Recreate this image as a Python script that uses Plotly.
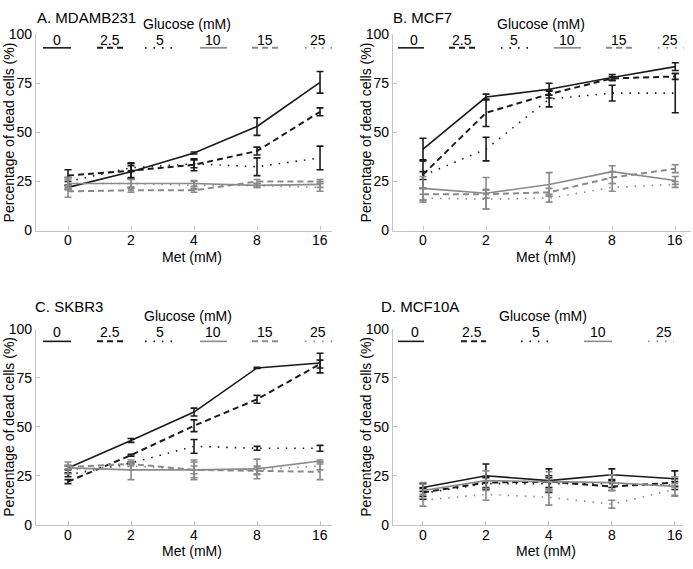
import plotly.graph_objects as go

# ---------------- data ----------------
met_labels = ["0", "2", "4", "8", "16"]
glucose_levels = ["0", "2.5", "5", "10", "15", "25"]
panel_titles = ["A. MDAMB231", "B. MCF7", "C. SKBR3", "D. MCF10A"]

# Panel A  MDAMB231
A_g0 = [22, 30, 39.5, 53, 75.5]
A_g0_err = [1, 3, 0.5, 4.5, 5.5]
A_g2_5 = [28, 30.5, 33.5, 40.5, 60.5]
A_g2_5_err = [3, 4, 3, 2, 2]
A_g5 = [25, 32, 34, 32.5, 37]
A_g5_err = [2, 2, 2, 4.5, 6]
A_g10 = [24, 24, 24, 23, 23.5]
A_g10_err = [2, 2, 1.5, 1, 1.5]
A_g15 = [20, 20.5, 20.5, 25, 25]
A_g15_err = [3, 1, 1, 1, 1]
A_g25 = [24, 24, 23, 23, 22]
A_g25_err = [3, 2, 2, 1, 2]

# Panel B  MCF7
B_g0 = [41.5, 68, 72, 78, 83.5]
B_g0_err = [5.5, 1.5, 3, 1.5, 2]
B_g2_5 = [28.5, 60, 69.5, 77.5, 78.5]
B_g2_5_err = [7, 7, 2, 1, 1.5]
B_g5 = [28, 41.5, 67, 70, 70]
B_g5_err = [2, 6, 4, 4, 10]
B_g10 = [21.5, 19, 23.5, 30, 25.5]
B_g10_err = [6, 8, 6, 3, 2]
B_g15 = [18.5, 18.5, 19.5, 27, 31.5]
B_g15_err = [3, 2, 2, 3, 2]
B_g25 = [16.5, 16, 16.5, 22, 23.5]
B_g25_err = [2, 5, 2, 2, 1.5]

# Panel C  SKBR3
C_g0 = [29, 43, 57.5, 80, 82.5]
C_g0_err = [1, 1, 2, 0.3, 5]
C_g2_5 = [22, 35.5, 50.5, 64, 82]
C_g2_5_err = [1, 0.5, 3, 2, 2]
C_g5 = [25.5, 31.5, 40, 39, 39]
C_g5_err = [1, 0.5, 3.5, 1, 1.5]
C_g10 = [29, 28, 28, 28.5, 32.5]
C_g10_err = [3, 5, 5, 5, 0.5]
C_g15 = [29.5, 31, 28, 27.5, 27]
C_g15_err = [1, 1, 4, 2, 4]
C_g25 = [28, 30, 28, 28, 30]
C_g25_err = [2, 2, 2, 2, 2]

# Panel D  MCF10A (no 15 mM series)
D_g0 = [19, 25, 22.5, 25.5, 23.5]
D_g0_err = [2, 6, 6, 3, 4]
D_g2_5 = [16.5, 21.5, 22, 19.5, 21.5]
D_g2_5_err = [2, 3, 3, 2, 2]
D_g5 = [16, 21, 21, 21, 20]
D_g5_err = [3, 3, 3, 2, 2]
D_g10 = [17.5, 22.5, 22, 21.5, 19.5]
D_g10_err = [4, 5, 5, 4, 5]
D_g25 = [12.5, 15.5, 14, 10.5, 18]
D_g25_err = [3, 3, 4, 2, 3]

# ---------------- styles ----------------
BLACK = "#1a1a1a"
GRAY = "#8a8a8a"
AXIS = "#c4c4c4"
FONT = "Liberation Sans, Arial, sans-serif"
W, H = 693, 569

styles = {
    "0": dict(color=BLACK, dash="solid", width=1.6),
    "2.5": dict(color=BLACK, dash="6px,4px", width=2),
    "5": dict(color=BLACK, dash="1.5px,7px", width=1.6),
    "10": dict(color=GRAY, dash="solid", width=1.6),
    "15": dict(color=GRAY, dash="6px,4px", width=2),
    "25": dict(color=GRAY, dash="1.5px,7px", width=1.6),
}

panels = [
    dict(series={"0": (A_g0, A_g0_err), "2.5": (A_g2_5, A_g2_5_err), "5": (A_g5, A_g5_err),
                 "10": (A_g10, A_g10_err), "15": (A_g15, A_g15_err), "25": (A_g25, A_g25_err)},
         px=(36, 332), py=(27, 229), xr=(-0.508, 4.19),
         title_xy=(35, 10), gluc_xy=(187, 16), met_xy=(192, 256), tick_y=239,
         leg=[(57, 43, 71), (110, 97, 123), (160, 145, 175), (213, 200, 227), (265, 252, 278), (318, 305, 332)],
         leg_keys=["0", "2.5", "5", "10", "15", "25"], leg_y=(33, 41)),
    dict(series={"0": (B_g0, B_g0_err), "2.5": (B_g2_5, B_g2_5_err), "5": (B_g5, B_g5_err),
                 "10": (B_g10, B_g10_err), "15": (B_g15, B_g15_err), "25": (B_g25, B_g25_err)},
         px=(393, 691), py=(27, 229), xr=(-0.476, 4.25),
         title_xy=(391, 10), gluc_xy=(541, 16), met_xy=(546, 256), tick_y=239,
         leg=[(414, 398, 424), (462, 449, 476), (514, 501, 528), (567, 554, 581), (619, 606, 633), (670, 658, 684)],
         leg_keys=["0", "2.5", "5", "10", "15", "25"], leg_y=(33, 41)),
    dict(series={"0": (C_g0, C_g0_err), "2.5": (C_g2_5, C_g2_5_err), "5": (C_g5, C_g5_err),
                 "10": (C_g10, C_g10_err), "15": (C_g15, C_g15_err), "25": (C_g25, C_g25_err)},
         px=(36, 332), py=(330, 531.7), xr=(-0.508, 4.19),
         title_xy=(33, 307), gluc_xy=(188, 317), met_xy=(192, 559), tick_y=542,
         leg=[(57, 43, 71), (110, 97, 123), (160, 145, 175), (213, 200, 227), (265, 252, 278), (318, 305, 332)],
         leg_keys=["0", "2.5", "5", "10", "15", "25"], leg_y=(333, 343)),
    dict(series={"0": (D_g0, D_g0_err), "2.5": (D_g2_5, D_g2_5_err), "5": (D_g5, D_g5_err),
                 "10": (D_g10, D_g10_err), "25": (D_g25, D_g25_err)},
         px=(393, 683), py=(330, 531.7), xr=(-0.476, 4.13),
         title_xy=(379, 307), gluc_xy=(543, 317), met_xy=(546, 559), tick_y=542,
         leg=[(415, 398, 424), (472, 461, 486), (536, 521, 549), (598, 584, 612), (664, 648, 674)],
         leg_keys=["0", "2.5", "5", "10", "25"], leg_y=(333, 343)),
]

fig = go.Figure()
annotations = []
shapes = []
layout_axes = {}

def fx(p):
    return p / W

def fy(p):
    return 1 - p / H

for i, pn in enumerate(panels):
    k = "" if i == 0 else str(i + 1)
    xa, ya = "x" + k, "y" + k
    for g in glucose_levels:
        if g not in pn["series"]:
            continue
        vals, errs = pn["series"][g]
        st = styles[g]
        fig.add_trace(go.Scatter(
            x=list(range(len(met_labels))), y=vals, xaxis=xa, yaxis=ya,
            mode="lines", showlegend=False, name=g + " mM",
            line=dict(color=st["color"], dash=st["dash"], width=st["width"]),
            error_y=dict(type="data", array=errs, visible=True, color=st["color"],
                         thickness=1.6, width=3.5),
        ))
    layout_axes["xaxis" + k] = dict(
        domain=[fx(pn["px"][0]), fx(pn["px"][1])], anchor=ya, range=list(pn["xr"]),
        tickmode="array", tickvals=list(range(len(met_labels))), ticktext=met_labels,
        showticklabels=False,
        showline=True, linecolor=AXIS, linewidth=1.2, ticks="inside", ticklen=4,
        tickcolor=AXIS, showgrid=False, zeroline=False,
    )
    layout_axes["yaxis" + k] = dict(
        domain=[fy(pn["py"][1]), fy(pn["py"][0])], anchor=xa, range=[0, 100],
        tickvals=[0, 25, 50, 75, 100], showline=True, linecolor=AXIS, linewidth=1.2,
        ticks="inside", ticklen=4, tickcolor=AXIS, showgrid=False, zeroline=False,
        tickfont=dict(family=FONT, size=14, color="black"), ticklabelstandoff=0,
    )
    # x tick labels placed at category positions (closer to the axis, like the original)
    for j, lab in enumerate(met_labels):
        annotations.append(dict(text=lab, x=j, xref=xa, y=fy(pn["tick_y"]), yref="paper",
                                xanchor="center", yanchor="middle", showarrow=False,
                                font=dict(family=FONT, size=14, color="black")))
    annotations.append(dict(text=panel_titles[i], x=fx(pn["title_xy"][0]), y=fy(pn["title_xy"][1]),
                            xref="paper", yref="paper", xanchor="left", yanchor="middle",
                            showarrow=False, font=dict(family=FONT, size=15, color="black")))
    annotations.append(dict(text="Glucose (mM)", x=fx(pn["gluc_xy"][0]), y=fy(pn["gluc_xy"][1]),
                            xref="paper", yref="paper", xanchor="center", yanchor="middle",
                            showarrow=False, font=dict(family=FONT, size=14, color="black")))
    annotations.append(dict(text="Met (mM)", x=fx(pn["met_xy"][0]), y=fy(pn["met_xy"][1]),
                            xref="paper", yref="paper", xanchor="center", yanchor="middle",
                            showarrow=False, font=dict(family=FONT, size=14, color="black")))
    cy = (pn["py"][0] + pn["py"][1]) / 2
    annotations.append(dict(text="Percentage of dead cells (%)", x=fx(pn["px"][0] - 27), y=fy(cy),
                            xref="paper", yref="paper", xanchor="center", yanchor="middle",
                            textangle=-90, showarrow=False,
                            font=dict(family=FONT, size=14, color="black")))
    ty, ly = pn["leg_y"]
    for key, (cx, x0, x1) in zip(pn["leg_keys"], pn["leg"]):
        st = styles[key]
        annotations.append(dict(text=key, x=fx(cx), y=fy(ty), xref="paper", yref="paper",
                                xanchor="center", yanchor="middle", showarrow=False,
                                font=dict(family=FONT, size=14, color="black")))
        shapes.append(dict(type="line", xref="paper", yref="paper",
                           x0=fx(x0), x1=fx(x1), y0=fy(ly), y1=fy(ly),
                           line=dict(color=st["color"], dash=st["dash"], width=st["width"])))

fig.update_layout(
    width=W, height=H, margin=dict(l=0, r=0, t=0, b=0),
    paper_bgcolor="white", plot_bgcolor="white",
    showlegend=False, annotations=annotations, shapes=shapes,
    font=dict(family=FONT, size=14, color="black"),
    **layout_axes,
)

fig.write_html(
    "out.html",
    config={"displayModeBar": False},
    post_script="document.body.style.margin='0px';document.body.style.padding='0px';"
                "document.body.style.overflow='hidden';",
)
